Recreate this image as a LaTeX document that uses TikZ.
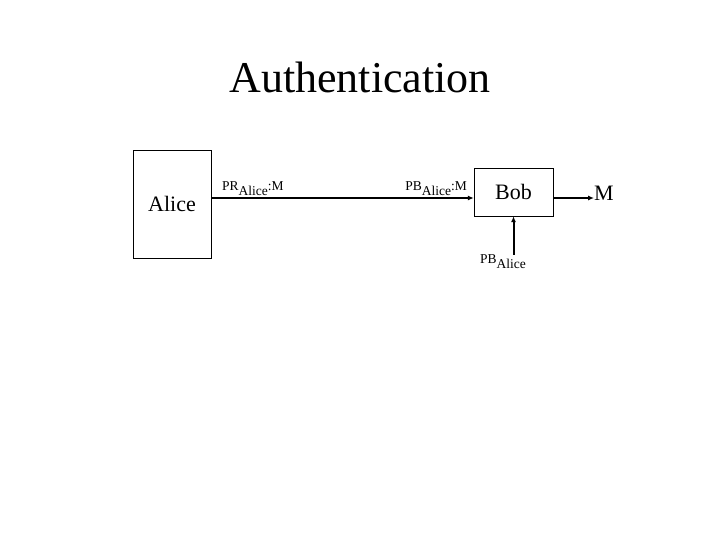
\documentclass[tikz,border=0pt]{standalone}
\usepackage{fontspec}
\setmainfont{Liberation Serif}
\usetikzlibrary{arrows.meta}

\newcommand{\lowtext}[1]{\raisebox{-5pt}{#1}}

\tikzset{
  party/.style={draw,thin,rectangle,inner sep=0pt,font=\fontsize{22}{26}\selectfont},
  keytext/.style={inner sep=0pt,font=\fontsize{13.5}{15}\selectfont},
  flow/.style={line width=2pt,-{Latex[length=6pt,width=5pt]}}
}

\begin{document}
\begin{tikzpicture}[x=1pt,y=-1pt]
  \useasboundingbox (0,0) rectangle (720,540);

  \node[inner sep=0pt,font=\fontsize{44}{50}\selectfont] (title) at (360,77) {Authentication};

  \node[party,minimum width=78pt,minimum height=108pt] (alice) at (172,204) {Alice};
  \node[party,minimum width=79pt,minimum height=48pt] (bob) at (513.5,192) {Bob};
  \node[inner sep=0pt,font=\fontsize{22}{26}\selectfont] (msg) at (604,193) {M};

  \node[keytext,anchor=base west] (signed) at (222,191) {PR\lowtext{Alice}:M};
  \node[keytext,anchor=base east] (checked) at (467,191) {PB\lowtext{Alice}:M};
  \node[keytext] (pubkey) at (503,262) {PB\lowtext{Alice}};

  \draw[flow] (alice.east |- 0,198) -- (bob.west |- 0,198);
  \draw[flow] (bob.east |- 0,198) -- (msg.west |- 0,198);
  \draw[flow] (pubkey.north -| bob.south) -- (bob.south);
\end{tikzpicture}
\end{document}
